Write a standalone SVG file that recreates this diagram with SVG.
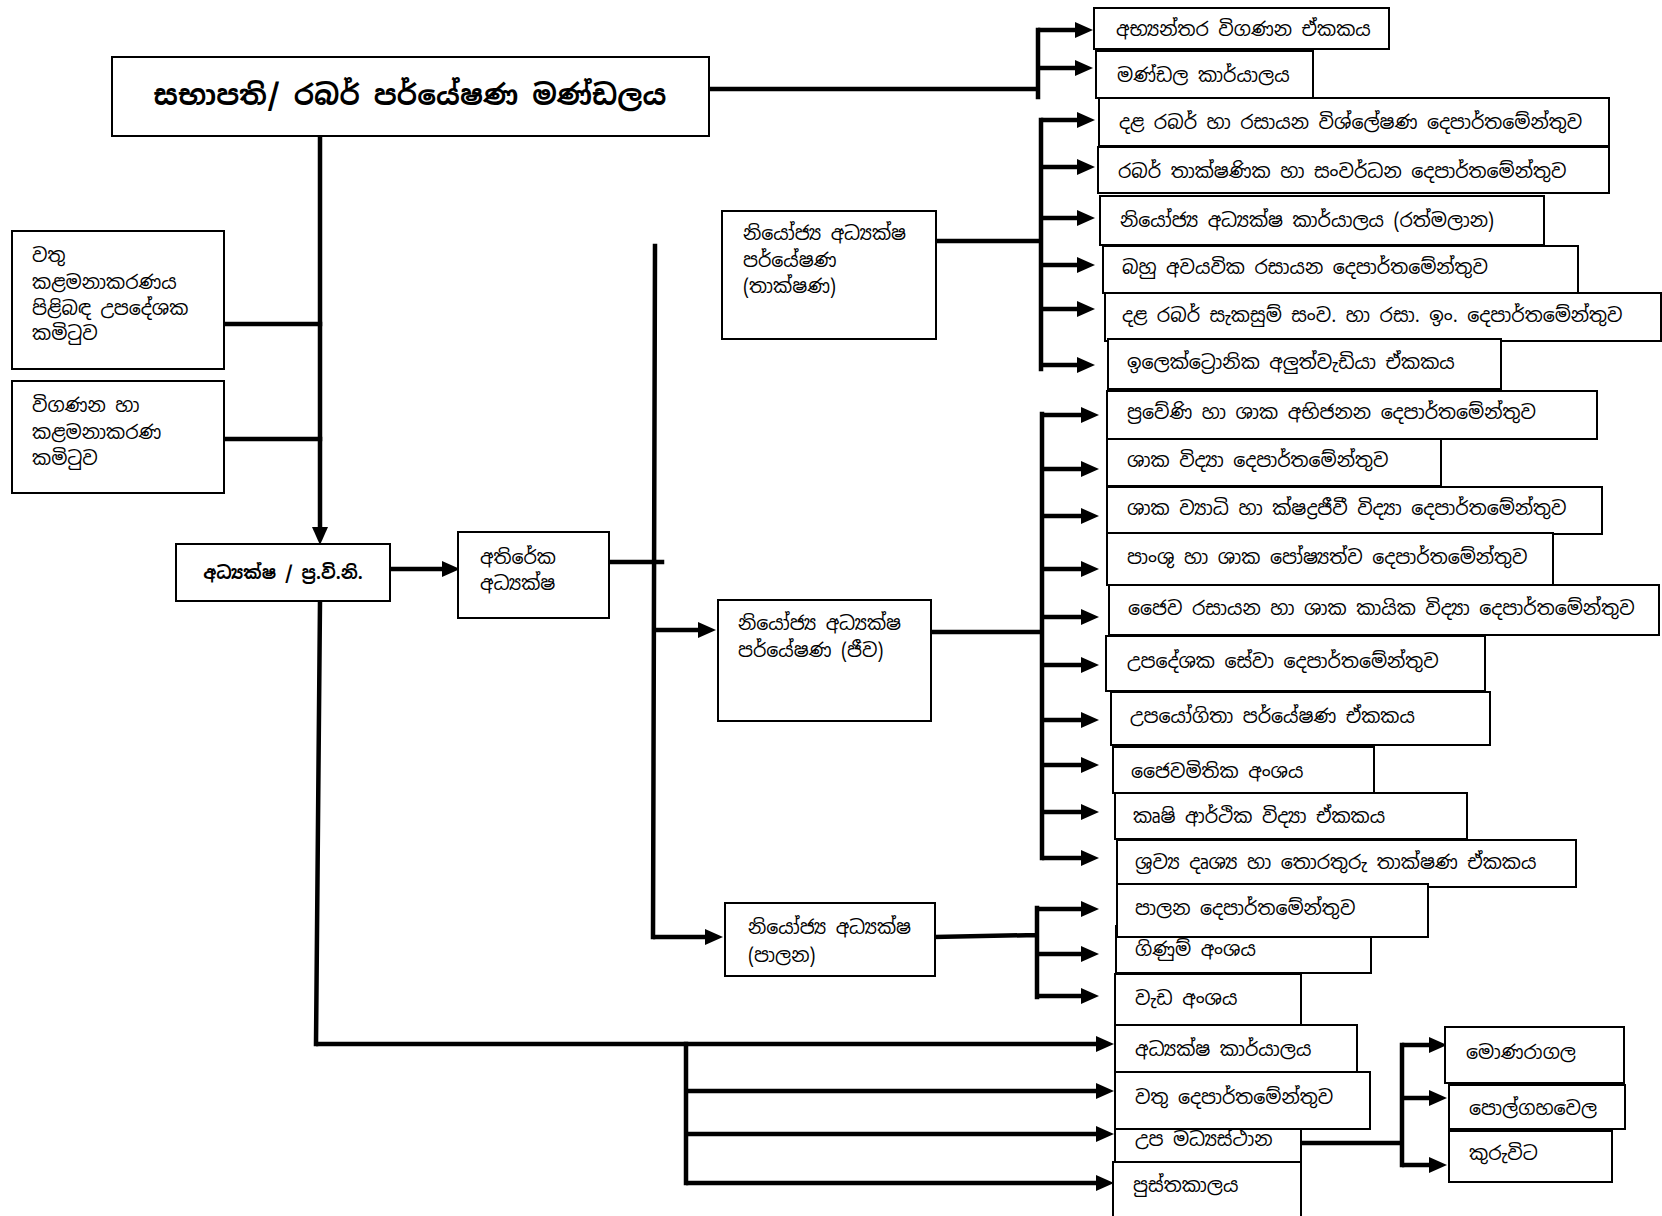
<svg xmlns="http://www.w3.org/2000/svg" width="1662" height="1216" viewBox="0 0 1662 1216">
<defs>
<style>
.box{fill:#fff;stroke:#000;stroke-width:2}
.t{font-family:"Noto Sans Sinhala","Iskoola Pota","Noto Serif Sinhala","Noto Sans",sans-serif;font-size:19px;fill:#000;dominant-baseline:central}
.b{font-weight:bold;font-size:17.5px}
.title{font-weight:bold;font-size:28px}
.c{fill:none;stroke:#000;stroke-width:4.5;stroke-linecap:square}
.ca{fill:none;stroke:#000;stroke-width:4.5;marker-end:url(#ah)}
</style>
<marker id="ah" markerUnits="userSpaceOnUse" markerWidth="20" markerHeight="18" refX="8" refY="8" orient="auto">
<path d="M0,0 L18,8 L0,16 z" fill="#000"/>
</marker>
</defs>
<rect width="1662" height="1216" fill="#fff"/>

<g id="connectors">
<path class="c" d="M709,89 H1038 M1038,30 V97"/>
<path class="ca" d="M1038,30 H1083"/>
<path class="ca" d="M1038,68 H1083"/>
<path class="ca" d="M320,135 V535"/>
<path class="c" d="M224,324 H320 M224,439 H320"/>
<path class="ca" d="M390,569 H450"/>
<path class="c" d="M609,562 H662"/>
<path class="c" d="M655,246 L653,937"/>
<path class="ca" d="M655,630 H706"/>
<path class="ca" d="M653,937 H713"/>
<path class="c" d="M939,241 H1041 M1041,120 V369"/>
<path class="ca" d="M1041,120 H1085"/>
<path class="ca" d="M1041,167 H1085"/>
<path class="ca" d="M1041,218 H1085"/>
<path class="ca" d="M1041,265 H1085"/>
<path class="ca" d="M1041,309 H1085"/>
<path class="ca" d="M1041,365 H1085"/>
<path class="c" d="M931,632 H1042 M1042,414 V858"/>
<path class="ca" d="M1042,415 H1089"/>
<path class="ca" d="M1042,469 H1089"/>
<path class="ca" d="M1042,516 H1089"/>
<path class="ca" d="M1042,569 H1089"/>
<path class="ca" d="M1042,617 H1089"/>
<path class="ca" d="M1042,665 H1089"/>
<path class="ca" d="M1042,720 H1089"/>
<path class="ca" d="M1042,765 H1089"/>
<path class="ca" d="M1042,812 H1089"/>
<path class="ca" d="M1042,858 H1089"/>
<path class="c" d="M935,937 L1037,935 M1037,908 V997"/>
<path class="ca" d="M1037,909 H1089"/>
<path class="ca" d="M1037,954 H1089"/>
<path class="ca" d="M1037,996 H1089"/>
<path class="c" d="M320,601 L316,1044"/>
<path class="ca" d="M316,1044 H1104"/>
<path class="c" d="M686,1044 V1183"/>
<path class="ca" d="M686,1091 H1104"/>
<path class="ca" d="M686,1134 H1104"/>
<path class="ca" d="M686,1183 H1104"/>
<path class="c" d="M1301,1143 H1402 M1402,1045 V1165"/>
<path class="ca" d="M1402,1045 H1437"/>
<path class="ca" d="M1402,1098 H1437"/>
<path class="ca" d="M1402,1165 H1437"/>
</g>

<g id="n-chair"><rect class="box" x="112" y="57" width="597" height="79"/><text class="t title" x="410" y="95" text-anchor="middle">සභාපති/ රබර් පර්යේෂණ මණ්ඩලය</text></g>
<g id="n-committee1"><rect class="box" x="12" y="231" width="212" height="138"/>
<text class="t" x="32" y="255">වතු</text><text class="t" x="32" y="282">කළමනාකරණය</text><text class="t" x="32" y="308">පිළිබඳ උපදේශක</text><text class="t" x="32" y="333">කමිටුව</text></g>
<g id="n-committee2"><rect class="box" x="12" y="381" width="212" height="112"/>
<text class="t" x="32" y="405">විගණන හා</text><text class="t" x="32" y="432">කළමනාකරණ</text><text class="t" x="32" y="458">කමිටුව</text></g>
<g id="n-director"><rect class="box" x="176" y="544" width="214" height="57"/><text class="t b" x="283" y="572" text-anchor="middle">අධ්‍යක්ෂ / ප්‍ර.වි.නි.</text></g>
<g id="n-addl"><rect class="box" x="458" y="532" width="151" height="86"/><text class="t" x="480" y="557">අතිරේක</text><text class="t" x="480" y="583">අධ්‍යක්ෂ</text></g>
<g id="n-dd-tech"><rect class="box" x="722" y="211" width="214" height="128"/><text class="t" x="743" y="233">නියෝජ්‍ය අධ්‍යක්ෂ</text><text class="t" x="743" y="260">පර්යේෂණ</text><text class="t" x="743" y="286">(තාක්ෂණ)</text></g>
<g id="n-dd-bio"><rect class="box" x="718" y="600" width="213" height="121"/><text class="t" x="738" y="623">නියෝජ්‍ය අධ්‍යක්ෂ</text><text class="t" x="738" y="650">පර්යේෂණ (ජීව)</text></g>
<g id="n-dd-admin"><rect class="box" x="725" y="903" width="210" height="73"/><text class="t" x="748" y="927">නියෝජ්‍ය අධ්‍යක්ෂ</text><text class="t" x="748" y="955">(පාලන)</text></g>

<g id="n-r1"><rect class="box" x="1094" y="8" width="295" height="41"/><text class="t" x="1116" y="29">අභ්‍යන්තර විගණන ඒකකය</text></g>
<g id="n-r2"><rect class="box" x="1096" y="51" width="217" height="47"/><text class="t" x="1117" y="75">මණ්ඩල කාර්යාලය</text></g>

<g id="n-t1"><rect class="box" x="1099" y="98" width="510" height="48"/><text class="t" x="1119" y="122">දළ රබර් හා රසායන විශ්ලේෂණ දෙපාර්තමේන්තුව</text></g>
<g id="n-t2"><rect class="box" x="1098" y="147" width="511" height="46"/><text class="t" x="1118" y="171">රබර් තාක්ෂණික හා සංවර්ධන දෙපාර්තමේන්තුව</text></g>
<g id="n-t3"><rect class="box" x="1100" y="196" width="444" height="49"/><text class="t" x="1120" y="220">නියෝජ්‍ය අධ්‍යක්ෂ කාර්යාලය (රත්මලාන)</text></g>
<g id="n-t4"><rect class="box" x="1103" y="246" width="475" height="47"/><text class="t" x="1122" y="267">බහු අවයවික රසායන දෙපාර්තමේන්තුව</text></g>
<g id="n-t5"><rect class="box" x="1105" y="293" width="556" height="48"/><text class="t" x="1122" y="315">දළ රබර් සැකසුම් සංව. හා රසා. ඉං. දෙපාර්තමේන්තුව</text></g>
<g id="n-t6"><rect class="box" x="1108" y="339" width="393" height="50"/><text class="t" x="1127" y="362">ඉලෙක්ට්‍රොනික අලුත්වැඩියා ඒකකය</text></g>

<g id="n-b1"><rect class="box" x="1107" y="391" width="490" height="48"/><text class="t" x="1127" y="412">ප්‍රවේණි හා ශාක අභිජනන දෙපාර්තමේන්තුව</text></g>
<g id="n-b2"><rect class="box" x="1107" y="439" width="334" height="47"/><text class="t" x="1127" y="460">ශාක විද්‍යා දෙපාර්තමේන්තුව</text></g>
<g id="n-b3"><rect class="box" x="1107" y="487" width="495" height="47"/><text class="t" x="1127" y="508">ශාක ව්‍යාධි හා ක්ෂද්‍රජීවී විද්‍යා දෙපාර්තමේන්තුව</text></g>
<g id="n-b4"><rect class="box" x="1107" y="533" width="446" height="52"/><text class="t" x="1127" y="557">පාංශු හා ශාක පෝෂ්‍යත්ව දෙපාර්තමේන්තුව</text></g>
<g id="n-b5"><rect class="box" x="1109" y="585" width="550" height="50"/><text class="t" x="1128" y="608">ජෛව රසායන හා ශාක කායික විද්‍යා දෙපාර්තමේන්තුව</text></g>
<g id="n-b6"><rect class="box" x="1106" y="636" width="379" height="55"/><text class="t" x="1127" y="661">උපදේශක සේවා දෙපාර්තමේන්තුව</text></g>
<g id="n-b7"><rect class="box" x="1111" y="692" width="379" height="53"/><text class="t" x="1130" y="716">උපයෝගිතා පර්යේෂණ ඒකකය</text></g>
<g id="n-b8"><rect class="box" x="1113" y="747" width="261" height="46"/><text class="t" x="1131" y="771">ජෛවමිතික අංශය</text></g>
<g id="n-b9"><rect class="box" x="1115" y="793" width="352" height="46"/><text class="t" x="1133" y="816">කෘෂි ආර්ථික විද්‍යා ඒකකය</text></g>
<g id="n-b10"><rect class="box" x="1117" y="840" width="459" height="47"/><text class="t" x="1135" y="862">ශ්‍රව්‍ය දෘශ්‍ය හා තොරතුරු තාක්ෂණ ඒකකය</text></g>

<g id="n-a2"><rect class="box" x="1116" y="926" width="255" height="47"/><text class="t" x="1135" y="949">ගිණුම් අංශය</text></g>
<g id="n-a1"><rect class="box" x="1117" y="884" width="311" height="53"/><text class="t" x="1135" y="908">පාලන දෙපාර්තමේන්තුව</text></g>
<g id="n-a3"><rect class="box" x="1115" y="974" width="186" height="52"/><text class="t" x="1135" y="998">වැඩ අංශය</text></g>

<g id="n-c4"><rect class="box" x="1113" y="1162" width="188" height="64"/><text class="t" x="1133" y="1185">පුස්තකාලය</text></g>
<g id="n-c3"><rect class="box" x="1115" y="1129" width="186" height="33"/><text class="t" x="1135" y="1139">උප මධ්‍යස්ථාන</text></g>
<g id="n-c2"><rect class="box" x="1115" y="1072" width="255" height="57"/><text class="t" x="1135" y="1097">වතු දෙපාර්තමේන්තුව</text></g>
<g id="n-c1"><rect class="box" x="1115" y="1025" width="242" height="47"/><text class="t" x="1135" y="1049">අධ්‍යක්ෂ කාර්යාලය</text></g>

<g id="n-s1"><rect class="box" x="1445" y="1027" width="179" height="56"/><text class="t" x="1466" y="1052">මොණරාගල</text></g>
<g id="n-s2"><rect class="box" x="1449" y="1085" width="176" height="44"/><text class="t" x="1469" y="1108">පොල්ගහවෙල</text></g>
<g id="n-s3"><rect class="box" x="1449" y="1131" width="163" height="51"/><text class="t" x="1469" y="1153">කුරුවිට</text></g>
</svg>
